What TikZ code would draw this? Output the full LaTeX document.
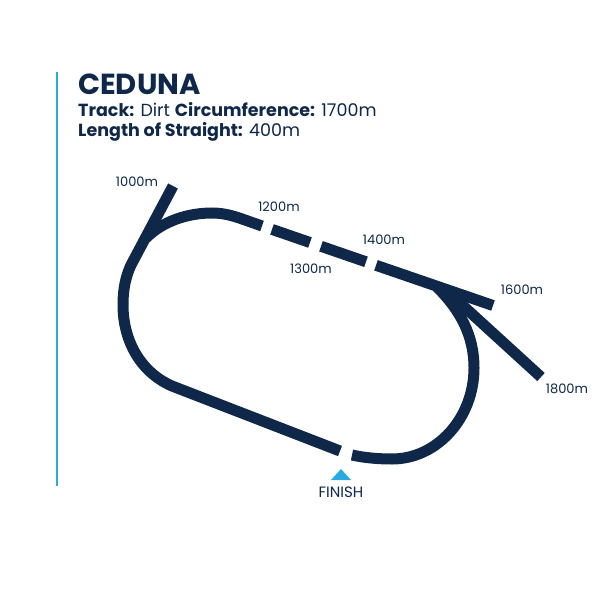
\documentclass[tikz,border=0pt]{standalone}
\usepackage{fontspec}
\setmainfont{Poppins}
\definecolor{tracknavy}{HTML}{0F2748}
\definecolor{finishblue}{HTML}{29ABE2}
\begin{document}
\begin{tikzpicture}[x=1pt,y=-1pt,
  track/.style={draw=tracknavy, line width=11pt},
  dist/.style={text=tracknavy, inner sep=0pt, font=\fontsize{13}{15}\selectfont}]
\useasboundingbox (0,0) rectangle (612,612);
% heading
\draw[finishblue, line width=2pt] (57,72) -- (57,486);
\node[anchor=base west, text=tracknavy, inner sep=0pt, font=\bfseries\fontsize{29}{32}\selectfont] at (78,95) (title) {CEDUNA};
\node[anchor=base west, text=tracknavy, inner sep=0pt, font=\fontsize{17.5}{20}\selectfont] at (78,117) (info) {\textbf{Track:} Dirt \textbf{Circumference:} 1700m};
\node[anchor=base west, text=tracknavy, inner sep=0pt, font=\fontsize{17.5}{20}\selectfont] at (78,137) (straight) {\textbf{Length of Straight:} 400m};
% track
\coordinate (fin) at (340,451);
\coordinate (home) at (172,386);
\coordinate (chute) at (173,186);
\coordinate (junction) at (437,287);
\draw[track] (fin) -- (home) .. controls (140,372) and (123,340) .. (123,305) .. controls (123,288) and (126,276) .. (131,265) -- (chute);
\draw[track] (146,238) .. controls (163,221) and (188,213) .. (212,213) .. controls (225,213) and (235,216.5) .. (245,220) -- (262,226);
\draw[track] (272,229.4) -- (310,242.5);
\draw[track] (321,246.3) -- (366,261.8);
\draw[track] (376,265.3) -- (493,305.5);
\draw[track] (junction) .. controls (460,310) and (474,335) .. (474,368) .. controls (474,418) and (437,459) .. (392,459) .. controls (380,459) and (365,458) .. (352,455);
\draw[track] (541,377) -- (449,293);
% finish
\fill[finishblue] (331,480) -- (341,469) -- (351,480) -- cycle;
\node[dist, font=\fontsize{15}{17}\selectfont] at (341,492) (finish) {FINISH};
% distances
\node[dist] at (137,182) (d1000) {1000m};
\node[dist] at (279,207) (d1200) {1200m};
\node[dist] at (311,269) (d1300) {1300m};
\node[dist] at (384,240) (d1400) {1400m};
\node[dist] at (522,290) (d1600) {1600m};
\node[dist] at (567,389) (d1800) {1800m};
\end{tikzpicture}
\end{document}
